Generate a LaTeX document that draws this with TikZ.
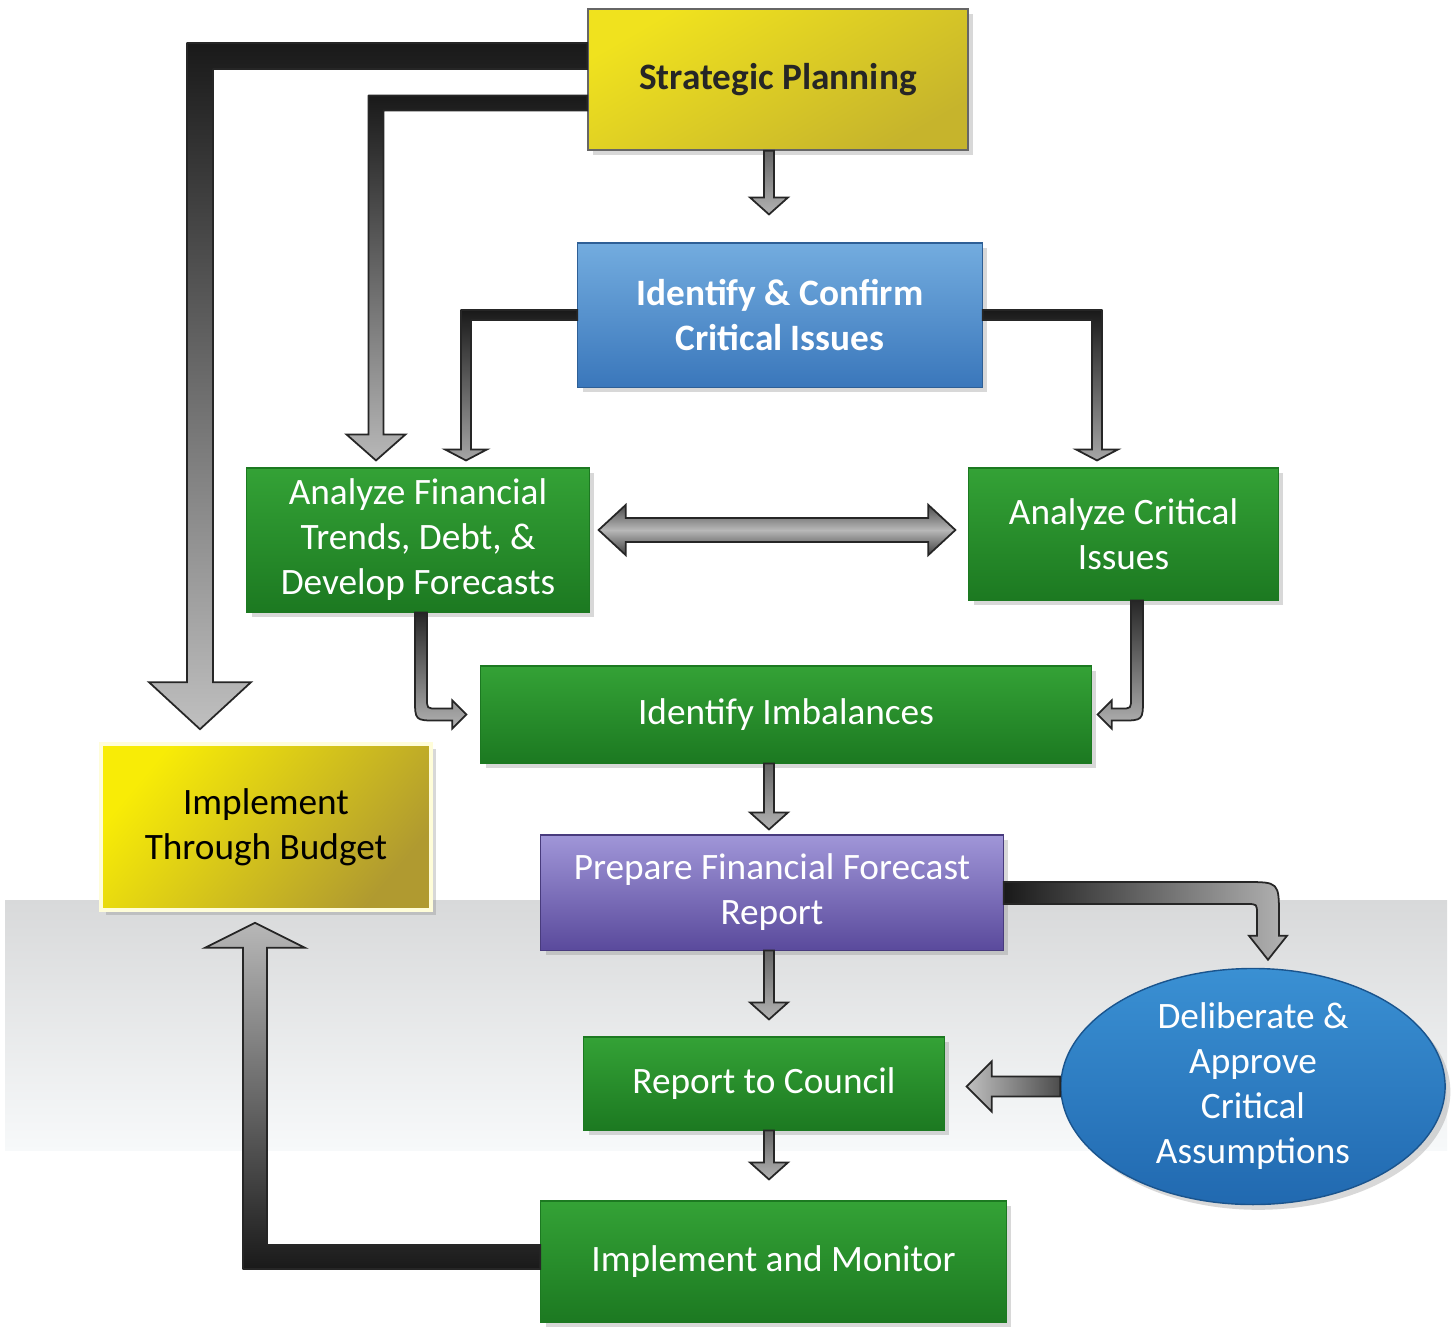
\documentclass[tikz,border=0pt]{standalone}
\usepackage{fontspec}
\setmainfont{Carlito}
\usetikzlibrary{calc,shapes.geometric,shadows}

\definecolor{ylwA}{HTML}{F0E21E}
\definecolor{ylwB}{HTML}{C6B42C}
\definecolor{ylwC}{HTML}{F8EC06}
\definecolor{ylwD}{HTML}{B09A30}
\definecolor{bluA}{HTML}{73ACDF}
\definecolor{bluB}{HTML}{3A77BB}
\definecolor{grnA}{HTML}{34A236}
\definecolor{grnB}{HTML}{1C7921}
\definecolor{purA}{HTML}{A096D8}
\definecolor{purB}{HTML}{5A4A9C}
\definecolor{ellA}{HTML}{3A90D3}
\definecolor{ellB}{HTML}{2169B0}
\definecolor{bandA}{HTML}{D8D9DA}
\definecolor{bandB}{HTML}{F7F9FA}

\tikzset{
  box/.style={rectangle, align=center, inner sep=0pt,
    font=\fontsize{10.6}{12.8}\selectfont,
    drop shadow={shadow xshift=1.5pt, shadow yshift=-1.5pt, opacity=0.3}},
  greenbox/.style={box, top color=grnA, bottom color=grnB, draw=grnB, line width=0.3pt, text=white},
  yellowbox/.style={box, top color=ylwA, bottom color=ylwB, shading angle=30, draw=black!60, line width=0.4pt},
  blk/.style={draw=black!85, line width=0.5pt, line join=miter},
}

% straight block arrow: style, from, to, half shaft, half head, head length
\newcommand{\blkarrow}[6]{%
  \coordinate (blkS) at (#2);
  \coordinate (blkT) at (#3);
  \coordinate (blkB) at ($(blkT)!#6!(blkS)$);
  \draw[blk,#1] ($(blkS)!#4!90:(blkT)$) -- ($(blkB)!#4!90:(blkT)$) -- ($(blkB)!#5!90:(blkT)$) -- (blkT)
    -- ($(blkB)!#5!-90:(blkT)$) -- ($(blkB)!#4!-90:(blkT)$) -- ($(blkS)!#4!-90:(blkT)$) -- cycle;}

% block arrow with heads at both ends
\newcommand{\dblblkarrow}[6]{%
  \coordinate (blkS) at (#2);
  \coordinate (blkT) at (#3);
  \coordinate (blkA) at ($(blkS)!#6!(blkT)$);
  \coordinate (blkB) at ($(blkT)!#6!(blkS)$);
  \draw[blk,#1] (blkS) -- ($(blkA)!#5!90:(blkT)$) -- ($(blkA)!#4!90:(blkT)$) -- ($(blkB)!#4!90:(blkT)$)
    -- ($(blkB)!#5!90:(blkT)$) -- (blkT) -- ($(blkB)!#5!-90:(blkT)$) -- ($(blkB)!#4!-90:(blkT)$)
    -- ($(blkA)!#4!-90:(blkT)$) -- ($(blkA)!#5!-90:(blkT)$) -- cycle;}

% bent block arrow: style, from, corner, to, half shaft, half head, head length, radius left, radius right
\newcommand{\Lblkarrow}[9]{%
  \coordinate (blkS) at (#2);
  \coordinate (blkT) at (#4);
  \coordinate (blkK) at (#3);
  \coordinate (blkB) at ($(blkT)!#7!(blkK)$);
  \coordinate (blkSL) at ($(blkS)!#5!90:(blkK)$);
  \coordinate (blkSR) at ($(blkS)!#5!-90:(blkK)$);
  \coordinate (blkBL) at ($(blkB)!#5!90:(blkT)$);
  \coordinate (blkBR) at ($(blkB)!#5!-90:(blkT)$);
  \coordinate (blkL) at ($(blkK)!#5!90:(blkT) + (blkK)!#5!-90:(blkS) - (blkK)$);
  \coordinate (blkR) at ($(blkK)!#5!-90:(blkT) + (blkK)!#5!90:(blkS) - (blkK)$);
  \draw[blk,#1] (blkSL) -- ($(blkL)!#8!(blkSL)$) .. controls (blkL) .. ($(blkL)!#8!(blkBL)$)
    -- (blkBL) -- ($(blkB)!#6!90:(blkT)$) -- (blkT) -- ($(blkB)!#6!-90:(blkT)$) -- (blkBR)
    -- ($(blkR)!#9!(blkBR)$) .. controls (blkR) .. ($(blkR)!#9!(blkSR)$) -- (blkSR) -- cycle;}

\begin{document}
\begin{tikzpicture}[x=0.01cm, y=-0.01cm]
  \fill[white] (0,0) rectangle (1453,1332);
  \shade[top color=bandA, bottom color=bandB] (5,900) rectangle (1447,1150);

  % boxes
  \node[yellowbox, minimum width=3.8cm, minimum height=1.41cm, text=black!85] (sp) at (778,79.5) {\textbf{Strategic Planning}};
  \node[box, top color=bluA, bottom color=bluB, draw=bluB!80!black, line width=0.3pt, text=white,
        minimum width=4.04cm, minimum height=1.44cm] (ici) at (780,315) {\textbf{Identify \& Confirm}\\\textbf{Critical Issues}};
  \node[greenbox, minimum width=3.42cm, minimum height=1.44cm] (af) at (418,540) {Analyze Financial\\Trends, Debt, \&\\Develop Forecasts};
  \node[greenbox, minimum width=3.09cm, minimum height=1.32cm] (ac) at (1123.5,534) {Analyze Critical\\Issues};
  \node[greenbox, minimum width=6.1cm, minimum height=0.97cm] (ii) at (786,714.5) {Identify Imbalances};
  \node[box, top color=ylwC, bottom color=ylwD, shading angle=50, draw=white!85!yellow, line width=1pt,
        minimum width=3.3cm, minimum height=1.66cm] (itb) at (266,827) {Implement\\Through Budget};
  \node[box, top color=purA, bottom color=purB, draw=purB!80!black, line width=0.3pt, text=white,
        minimum width=4.62cm, minimum height=1.15cm] (pf) at (772,892.5) {Prepare Financial Forecast\\Report};
  \node[greenbox, minimum width=3.6cm, minimum height=0.93cm] (rc) at (764,1083.5) {Report to Council};
  \node[greenbox, minimum width=4.65cm, minimum height=1.21cm] (im) at (773.5,1261.5) {Implement and Monitor};
  \node[box, ellipse, top color=ellA, bottom color=ellB, draw=ellB!80!black, line width=0.4pt, text=white,
        minimum width=3.84cm, minimum height=2.33cm] (dl) at (1253,1086.5) {Deliberate \&\\Approve\\Critical\\Assumptions};

  % arrows
  \Lblkarrow{top color=black!90, bottom color=black!25}{$(sp.west)+(0,-23.5)$}{blkT|-blkS}{$(itb.north)+(-66,-13)$}{0.13cm}{0.51cm}{0.47cm}{0.1pt}{0.1pt}
  \Lblkarrow{top color=black!90, bottom color=black!28}{$(sp.west)+(0,23.5)$}{blkT|-blkS}{$(af.north)+(-42,-7)$}{0.075cm}{0.295cm}{0.26cm}{0.1pt}{0.1pt}
  \Lblkarrow{top color=black!90, bottom color=black!35}{ici.west}{blkT|-blkS}{$(af.north)+(48,-7)$}{0.05cm}{0.21cm}{0.11cm}{0.1pt}{0.1pt}
  \Lblkarrow{top color=black!90, bottom color=black!35}{ici.east}{blkT|-blkS}{$(ac.north)+(-26.5,-7)$}{0.05cm}{0.21cm}{0.11cm}{0.1pt}{0.1pt}
  \blkarrow{top color=black!60, bottom color=black!30}{$(sp.south)+(-9,0)$}{$(ici.north)+(-11,-28)$}{0.05cm}{0.19cm}{0.17cm}
  \dblblkarrow{top color=black!70, bottom color=black!75, middle color=black!28}{$(af.east)+(9,-10)$}{$(ac.west)+(-13,-4)$}{0.12cm}{0.25cm}{0.27cm}
  \Lblkarrow{top color=black!85, bottom color=black!30}{$(af.south)+(3,0)$}{blkS|-blkT}{$(ii.west)+(-14,0)$}{0.06cm}{0.14cm}{0.14cm}{0.1cm}{0.22cm}
  \Lblkarrow{top color=black!85, bottom color=black!30}{$(ac.south)+(13.5,0)$}{blkS|-blkT}{$(ii.east)+(6,0)$}{0.06cm}{0.14cm}{0.14cm}{0.22cm}{0.1cm}
  \blkarrow{top color=black!60, bottom color=black!30}{$(ii.south)+(-17,0)$}{$(pf.north)+(-3,-5)$}{0.05cm}{0.19cm}{0.17cm}
  \Lblkarrow{left color=black!90, right color=black!30}{$(pf.east)+(0,0.5)$}{blkT|-blkS}{$(dl.north)+(15,-8)$}{0.11cm}{0.19cm}{0.24cm}{0.34cm}{0.1cm}
  \blkarrow{top color=black!60, bottom color=black!30}{$(pf.south)+(-3,0)$}{$(rc.north)+(5,-17)$}{0.05cm}{0.19cm}{0.17cm}
  \blkarrow{left color=black!25, right color=black!70}{dl.west}{$(rc.east)+(22,3)$}{0.1cm}{0.25cm}{0.25cm}
  \blkarrow{top color=black!60, bottom color=black!30}{$(rc.south)+(5,0)$}{$(im.north)+(-4.5,-21)$}{0.05cm}{0.19cm}{0.17cm}
  \Lblkarrow{top color=black!28, bottom color=black!90}{$(im.west)+(0,-4.5)$}{blkT|-blkS}{$(itb.south)+(-11,11)$}{0.12cm}{0.5cm}{0.25cm}{0.1pt}{0.1pt}
\end{tikzpicture}
\end{document}
